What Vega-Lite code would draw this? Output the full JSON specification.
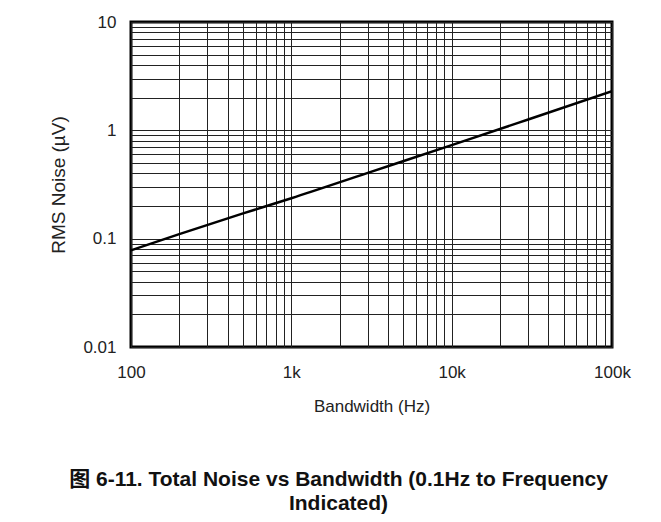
{
  "$schema": "https://vega.github.io/schema/vega-lite/v6.json",
  "width": 481,
  "height": 325,
  "autosize": {"type": "none"},
  "padding": {"left": 131, "top": 22, "right": 49, "bottom": 175},
  "background": "white",
  "title": {
    "text": ["图 6-11. Total Noise vs Bandwidth (0.1Hz to Frequency", "Indicated)"],
    "orient": "bottom",
    "anchor": "middle",
    "frame": "group",
    "dx": -33,
    "offset": 55,
    "font": "Liberation Sans, Noto Sans CJK SC",
    "fontSize": 21,
    "fontWeight": "bold",
    "color": "#111",
    "lineHeight": 24
  },
  "data": {
    "values": [
      {"bw": 100, "noise": 0.078},
      {"bw": 200, "noise": 0.11},
      {"bw": 500, "noise": 0.171},
      {"bw": 1000, "noise": 0.236},
      {"bw": 3000, "noise": 0.405},
      {"bw": 10000, "noise": 0.73},
      {"bw": 30000, "noise": 1.26},
      {"bw": 100000, "noise": 2.3}
    ]
  },
  "mark": {"type": "line", "color": "black", "strokeWidth": 2.5, "clip": true, "interpolate": "monotone"},
  "encoding": {
    "x": {
      "field": "bw",
      "type": "quantitative",
      "scale": {"type": "log", "domain": [100, 100000], "nice": false},
      "axis": {
        "title": "Bandwidth (Hz)",
        "values": [100,200,300,400,500,600,700,800,900,1000,2000,3000,4000,5000,6000,7000,8000,9000,10000,20000,30000,40000,50000,60000,70000,80000,90000,100000],
        "labelExpr": "datum.value == 100 ? '100' : datum.value == 1000 ? '1k' : datum.value == 10000 ? '10k' : datum.value == 100000 ? '100k' : ''",
        "labelFlush": false,
        "labelOverlap": false,
        "labelPadding": 17,
        "titlePadding": 18
      }
    },
    "y": {
      "field": "noise",
      "type": "quantitative",
      "scale": {"type": "log", "domain": [0.01, 10], "nice": false},
      "axis": {
        "title": "RMS Noise (µV)",
        "titleFontSize": 19,
        "values": [0.01,0.02,0.03,0.04,0.05,0.06,0.07,0.08,0.09,0.1,0.2,0.3,0.4,0.5,0.6,0.7,0.8,0.9,1,2,3,4,5,6,7,8,9,10],
        "labelExpr": "datum.value == 0.01 ? '0.01' : datum.value == 0.1 ? '0.1' : datum.value == 1 ? '1' : datum.value == 10 ? '10' : ''",
        "labelFlush": false,
        "labelOverlap": false,
        "labelPadding": 15,
        "titlePadding": 14
      }
    }
  },
  "config": {
    "view": {"stroke": "black", "strokeWidth": 3},
    "axis": {
      "grid": true,
      "gridColor": "#222",
      "gridOpacity": 1,
      "gridWidth": 1,
      "ticks": false,
      "domain": false,
      "labelFont": "Liberation Sans",
      "labelFontSize": 17,
      "labelColor": "#222",
      "titleFont": "Liberation Sans",
      "titleFontSize": 17,
      "titleFontWeight": "normal",
      "titleColor": "#222"
    }
  }
}
